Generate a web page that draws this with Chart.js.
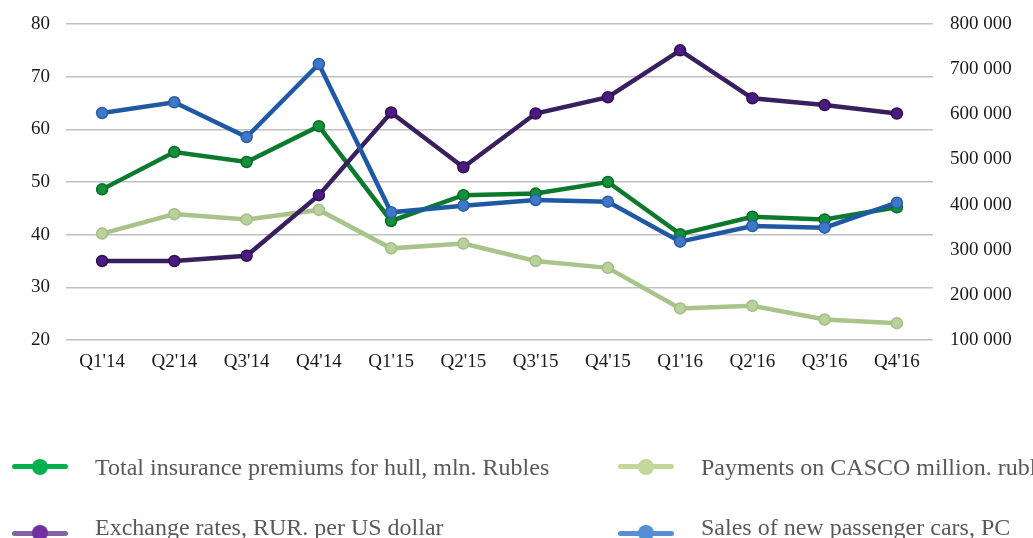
<!DOCTYPE html>
<html>
<head>
<meta charset="utf-8">
<script src="https://cdn.jsdelivr.net/npm/chart.js@4/dist/chart.umd.min.js"></script>
<style>
  html, body { margin: 0; padding: 0; background: #ffffff; overflow: hidden; }
  #wrap { position: relative; width: 1033px; height: 538px; overflow: hidden; }
  #c { position: absolute; left: 0; top: 0; }
  .lg-line { position: absolute; width: 56px; height: 5px; border-radius: 3px; }
  .lg-dot { position: absolute; width: 16px; height: 16px; border-radius: 50%; }
  .lg-text { position: absolute; font-family: 'Liberation Serif', 'Times New Roman', serif; font-size: 24px; line-height: 24px; color: #595959; white-space: nowrap; }
</style>
</head>
<body>
<div id="wrap">
  <canvas id="c" width="1033" height="538"></canvas>
  <div id="legend"></div>
</div>
<script>
const categories = ["Q1'14","Q2'14","Q3'14","Q4'14","Q1'15","Q2'15","Q3'15","Q4'15","Q1'16","Q2'16","Q3'16","Q4'16"];
const premiums = [48.6, 55.7, 53.8, 60.6, 42.6, 47.5, 47.8, 50.0, 40.1, 43.4, 42.9, 45.2];
const payments = [40.2, 43.9, 42.9, 44.7, 37.4, 38.3, 35.0, 33.7, 26.0, 26.5, 23.9, 23.2];
const exchangeRates = [35.0, 35.0, 36.0, 47.5, 63.2, 52.8, 63.0, 66.1, 75.0, 65.9, 64.6, 63.0];
const carSales = [602900, 626600, 549700, 711400, 382900, 397500, 410100, 406400, 317800, 352500, 348800, 404200];
const leftTicks = [20, 30, 40, 50, 60, 70, 80];
const rightTicks = [100000, 200000, 300000, 400000, 500000, 600000, 700000, 800000];
const seriesNames = [
  "Total insurance premiums for hull, mln. Rubles",
  "Payments on CASCO million. rubles",
  "Exchange rates, RUR. per US dollar",
  "Sales of new passenger cars, PC"
];

const fmt = v => String(v).replace(/\B(?=(\d{3})+(?!\d))/g, ' ');
const tickFont = { family: "'Liberation Serif', 'Times New Roman', serif", size: 19 };

function ds(label, data, axis, line, point, pointBorder, order, legendLine, legendDot) {
  return {
    label, data, yAxisID: axis, order,
    borderColor: line, backgroundColor: point,
    borderWidth: 4.5, tension: 0,
    pointRadius: 5.5, pointHoverRadius: 5.5,
    pointBackgroundColor: point, pointBorderColor: pointBorder, pointBorderWidth: 1.5,
    legendLine, legendDot
  };
}

const chart = new Chart(document.getElementById('c'), {
  type: 'line',
  data: {
    labels: categories,
    datasets: [
      ds(seriesNames[0], premiums, 'yL', '#0c7a2c', '#12903e', '#0a6a25', 4, '#00b050', '#00b050'),
      ds(seriesNames[1], payments, 'yL', '#a9c48b', '#b9d29c', '#a3bd86', 3, '#c3d69b', '#c3d69b'),
      ds(seriesNames[2], exchangeRates, 'yL', '#3a1f5e', '#4c1a82', '#2e1050', 2, '#8064a2', '#7030a0'),
      ds(seriesNames[3], carSales, 'yR', '#1f58a3', '#3f78c8', '#2a5ea8', 1, '#558ed5', '#558ed5')
    ]
  },
  options: {
    responsive: false,
    animation: false,
    layout: { padding: { top: 24, left: 0, right: 0, bottom: 0 } },
    plugins: { legend: { display: false }, tooltip: { enabled: false } },
    scales: {
      x: {
        offset: true,
        grid: { display: false, drawTicks: false },
        border: { display: false },
        ticks: { font: tickFont, color: '#1a1a1a', padding: 11, maxRotation: 0, autoSkip: false },
        afterFit: s => { s.height = 198; }
      },
      yL: {
        position: 'left', min: 20, max: 80,
        afterBuildTicks: s => { s.ticks = leftTicks.map(v => ({ value: v })); },
        grid: { color: '#c0c0c0', lineWidth: 1.6, drawTicks: false },
        border: { display: false },
        ticks: { font: tickFont, color: '#1a1a1a', padding: 16 },
        afterFit: s => { s.width = 66; s.paddingTop = 0; s.paddingBottom = 0; }
      },
      yR: {
        position: 'right', min: 100000, max: 800000,
        afterBuildTicks: s => { s.ticks = rightTicks.map(v => ({ value: v })); },
        grid: { display: false, drawTicks: false },
        border: { display: false },
        ticks: { font: tickFont, color: '#1a1a1a', padding: 17, callback: v => fmt(v) },
        afterFit: s => { s.width = 100; s.paddingTop = 0; s.paddingBottom = 0; }
      }
    }
  }
});

// HTML legend built from the chart's datasets
const legendPos = [
  { x: 12, y: 466.7, base: 475 }, { x: 618, y: 466.7, base: 475 },
  { x: 12, y: 533.3, base: 535 }, { x: 618, y: 533.3, base: 535 }
];
const legend = document.getElementById('legend');
chart.data.datasets.forEach((d, i) => {
  const p = legendPos[i];
  const line = document.createElement('div');
  line.className = 'lg-line';
  line.style.left = p.x + 'px';
  line.style.top = (p.y - 2.5) + 'px';
  line.style.background = d.legendLine;
  const dot = document.createElement('div');
  dot.className = 'lg-dot';
  dot.style.left = (p.x + 28 - 8) + 'px';
  dot.style.top = (p.y - 8) + 'px';
  dot.style.background = d.legendDot;
  const txt = document.createElement('div');
  txt.className = 'lg-text';
  txt.style.left = (p.x + 83) + 'px';
  txt.style.top = (p.base - 20) + 'px';
  txt.textContent = d.label;
  legend.appendChild(line); legend.appendChild(dot); legend.appendChild(txt);
});
</script>
</body>
</html>
